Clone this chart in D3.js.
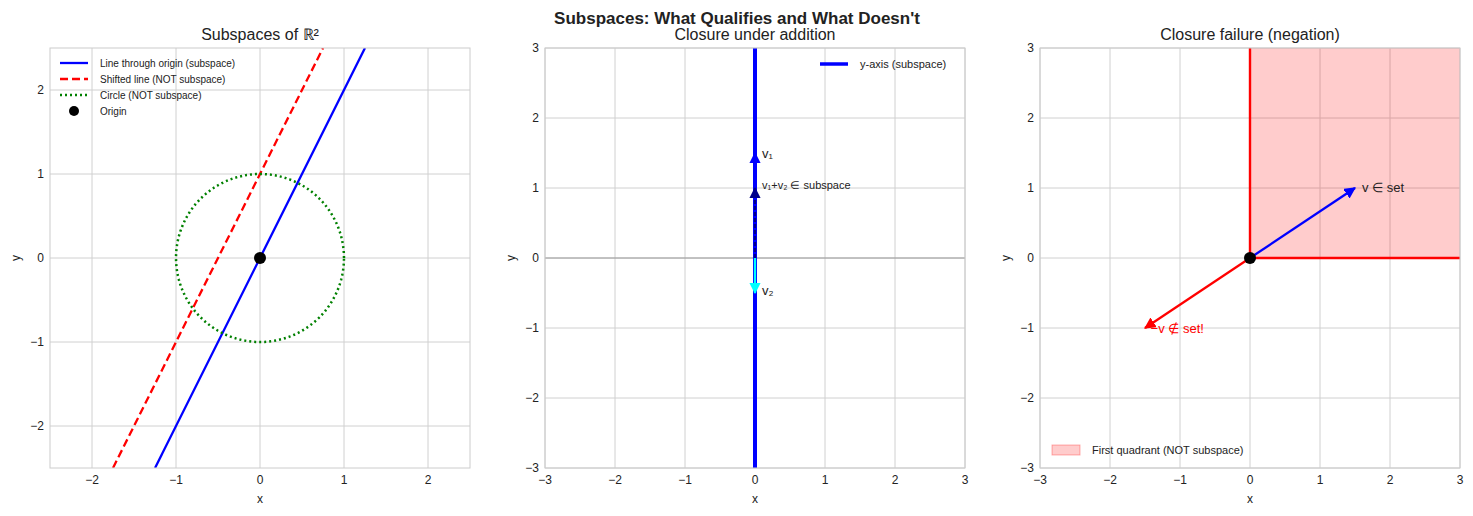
<!DOCTYPE html>
<html><head><meta charset="utf-8">
<script src="https://cdn.jsdelivr.net/npm/d3@7"></script>
<style>body{margin:0;background:#fff;font-family:"Liberation Sans",Arial,sans-serif;}</style>
</head><body>
<svg id="c" width="1473" height="516"></svg>
<script>
// panel data
var lineThroughOrigin = [[-1.25, -2.5], [1.25, 2.5]];        // y = 2x
var shiftedLine = [[-1.75, -2.5], [0.75, 2.5]];               // y = 2x + 1
var circleAngles = d3.range(0, 361, 3);
var v1 = [0, 1.5], v2 = [0, -0.5], vSum = [0, 1.0];
var v = [1.5, 1.0], negV = [-1.5, -1.0];
var ticks1 = [-2, -1, 0, 1, 2], ticks3 = [-3, -2, -1, 0, 1, 2, 3];

var svg = d3.select('#c');
var defs = svg.append('defs');
function marker(id, color) {
    defs.append('marker').attr('id', id).attr('viewBox', '0 0 10 10').attr('refX', 9).attr('refY', 5)
        .attr('markerWidth', 5).attr('markerHeight', 5).attr('orient', 'auto-start-reverse')
        .append('path').attr('d', 'M0,0L10,5L0,10z').attr('fill', color);
}
marker('mb', 'blue'); marker('mc', 'cyan'); marker('md', '#00008b'); marker('mr', 'red');

svg.append('text').attr('x', 737).attr('y', 24).attr('text-anchor', 'middle')
    .attr('font-size', 17).attr('font-weight', 'bold').attr('fill', '#222')
    .text("Subspaces: What Qualifies and What Doesn't");

function panel(left, dom, ticks, title) {
    var size = 420, top = 48;
    var x = d3.scaleLinear().domain(dom).range([left, left + size]);
    var y = d3.scaleLinear().domain(dom).range([top + size, top]);
    var g = svg.append('g');
    ticks.forEach(function(t) {
        g.append('line').attr('x1', x(t)).attr('x2', x(t)).attr('y1', top).attr('y2', top + size).attr('stroke', '#d0d0d0');
        g.append('line').attr('y1', y(t)).attr('y2', y(t)).attr('x1', left).attr('x2', left + size).attr('stroke', '#d0d0d0');
        g.append('text').attr('x', x(t)).attr('y', top + size + 16).attr('text-anchor', 'middle').attr('font-size', 12).attr('fill', '#222').text(d3.format('')(t).replace('-', '\u2212'));
        g.append('text').attr('x', left - 6).attr('y', y(t) + 4).attr('text-anchor', 'end').attr('font-size', 12).attr('fill', '#222').text(d3.format('')(t).replace('-', '\u2212'));
    });
    g.append('text').attr('x', left + size / 2).attr('y', top + size + 35).attr('text-anchor', 'middle').attr('font-size', 12).attr('fill', '#222').text('x');
    g.append('text').attr('transform', 'translate(' + (left - 30) + ',' + (top + size / 2) + ') rotate(-90)').attr('text-anchor', 'middle').attr('font-size', 12).attr('fill', '#222').text('y');
    g.append('text').attr('x', left + size / 2).attr('y', top - 8).attr('text-anchor', 'middle').attr('font-size', 16).attr('fill', '#222').text(title);
    var clipId = 'clip' + left;
    defs.append('clipPath').attr('id', clipId).append('rect').attr('x', left).attr('y', top).attr('width', size).attr('height', size);
    var plot = svg.append('g').attr('clip-path', 'url(#' + clipId + ')');
    var frame = function() {
        svg.append('rect').attr('x', left).attr('y', top).attr('width', size).attr('height', size).attr('fill', 'none').attr('stroke', '#ccc');
    };
    return {x: x, y: y, plot: plot, g: svg.append('g'), frame: frame};
}
function legend(g, x0, y0, items, fs) {
    items.forEach(function(it, i) {
        var yy = y0 + i * 16;
        if (it.dot) g.append('circle').attr('cx', x0 + 14).attr('cy', yy).attr('r', 5).attr('fill', 'black');
        else if (it.fill) g.append('rect').attr('x', x0).attr('y', yy - 5).attr('width', 28).attr('height', 10).attr('fill', it.fill).attr('stroke', it.stroke).attr('stroke-opacity', 0.3);
        else g.append('line').attr('x1', x0).attr('x2', x0 + 28).attr('y1', yy).attr('y2', yy).attr('stroke', it.color).attr('stroke-width', it.w).attr('stroke-dasharray', it.dash);
        g.append('text').attr('x', x0 + 40).attr('y', yy + 4).attr('font-size', fs).attr('fill', '#222').text(it.label);
    });
}
var line = function(p) { return d3.line().x(function(d) { return p.x(d[0]); }).y(function(d) { return p.y(d[1]); }); };

// Panel 1
var p1 = panel(50, [-2.5, 2.5], ticks1, 'Subspaces of \u211d\u00b2');
p1.plot.append('path').attr('d', line(p1)(lineThroughOrigin)).attr('stroke', 'blue').attr('stroke-width', 2.3).attr('fill', 'none');
p1.plot.append('path').attr('d', line(p1)(shiftedLine)).attr('stroke', 'red').attr('stroke-width', 2.3).attr('stroke-dasharray', '8,4').attr('fill', 'none');
p1.plot.append('path').attr('d', line(p1)(circleAngles.map(function(a) { var r = a * Math.PI / 180; return [Math.cos(r), Math.sin(r)]; })))
    .attr('stroke', 'green').attr('stroke-width', 2.5).attr('stroke-dasharray', '2,3').attr('fill', 'none');
p1.plot.append('circle').attr('cx', p1.x(0)).attr('cy', p1.y(0)).attr('r', 6).attr('fill', 'black');
p1.frame();
legend(p1.g, 60, 63, [
    {color: 'blue', w: 2.3, label: 'Line through origin (subspace)'},
    {color: 'red', w: 2.3, dash: '8,4', label: 'Shifted line (NOT subspace)'},
    {color: 'green', w: 2.5, dash: '2,3', label: 'Circle (NOT subspace)'},
    {dot: true, label: 'Origin'}], 10);

// Panel 2
var p2 = panel(545, [-3, 3], ticks3, 'Closure under addition');
p2.plot.append('line').attr('x1', p2.x(-3)).attr('x2', p2.x(3)).attr('y1', p2.y(0)).attr('y2', p2.y(0)).attr('stroke', '#888').attr('stroke-width', 0.8);
p2.plot.append('line').attr('x1', p2.x(0)).attr('x2', p2.x(0)).attr('y1', p2.y(-3)).attr('y2', p2.y(3)).attr('stroke', 'blue').attr('stroke-width', 4);
function arrow(p, v, col, m, dash) {
    p.plot.append('line').attr('x1', p.x(0)).attr('y1', p.y(0)).attr('x2', p.x(v[0])).attr('y2', p.y(v[1]))
        .attr('stroke', col).attr('stroke-width', 2.3).attr('stroke-dasharray', dash).attr('marker-end', 'url(#' + m + ')');
}
arrow(p2, v1, 'blue', 'mb');
arrow(p2, vSum, '#00008b', 'md', '4,2');
arrow(p2, v2, 'cyan', 'mc');
p2.frame();
p2.g.append('text').attr('x', p2.x(0.1)).attr('y', p2.y(1.5) + 5).attr('font-size', 13).attr('fill', '#222').text('v\u2081');
p2.g.append('text').attr('x', p2.x(0.1)).attr('y', p2.y(1.05) + 4).attr('font-size', 11).attr('fill', '#222').text('v\u2081+v\u2082 \u2208 subspace');
p2.g.append('text').attr('x', p2.x(0.1)).attr('y', p2.y(-0.45) + 5).attr('font-size', 13).attr('fill', '#222').text('v\u2082');
legend(p2.g, 820, 64, [{color: 'blue', w: 3.5, label: 'y-axis (subspace)'}], 11);

// Panel 3
var p3 = panel(1040, [-3, 3], ticks3, 'Closure failure (negation)');
p3.plot.append('rect').attr('x', p3.x(0)).attr('y', p3.y(3)).attr('width', p3.x(3) - p3.x(0)).attr('height', p3.y(0) - p3.y(3))
    .attr('fill', 'red').attr('fill-opacity', 0.2);
p3.plot.append('path').attr('d', line(p3)([[0, 3], [0, 0], [3, 0]])).attr('stroke', 'red').attr('stroke-width', 2.4).attr('fill', 'none');
arrow(p3, v, 'blue', 'mb');
arrow(p3, negV, 'red', 'mr');
p3.plot.append('circle').attr('cx', p3.x(0)).attr('cy', p3.y(0)).attr('r', 6).attr('fill', 'black');
p3.frame();
p3.g.append('text').attr('x', p3.x(1.6)).attr('y', p3.y(1.0) + 4).attr('font-size', 13).attr('fill', '#222').text('v \u2208 set');
p3.g.append('text').attr('x', p3.x(-1.42)).attr('y', p3.y(-1.0) + 5).attr('font-size', 13).attr('fill', 'red').text('\u2212v \u2209 set!');
legend(p3.g, 1052, 450, [{fill: 'rgba(255,0,0,0.2)', stroke: 'red', label: 'First quadrant (NOT subspace)'}], 11);
</script>
</body></html>
